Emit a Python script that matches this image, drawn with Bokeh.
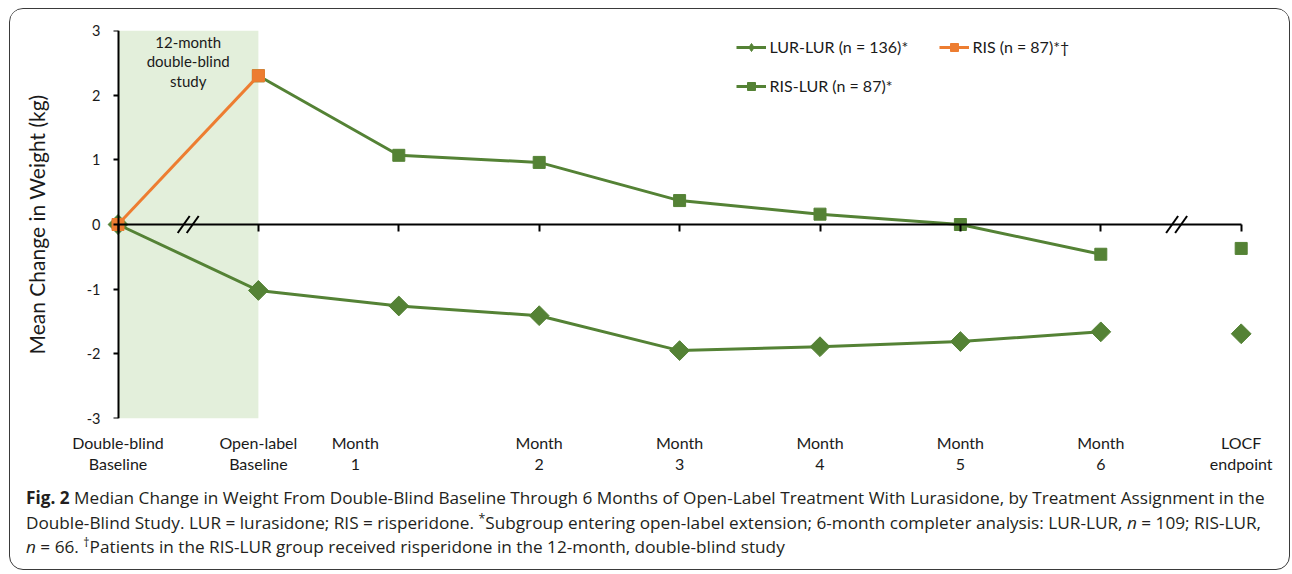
from bokeh.plotting import figure
from bokeh.models import (Range1d, LinearAxis, FixedTicker, Legend, LegendItem, Div)
from bokeh.layouts import column
from bokeh.embed import file_html
from bokeh.resources import INLINE
from bokeh.core.properties import value
import math

# ---------------- data ----------------
categories = ["Double-blind\nBaseline", "Open-label\nBaseline", "Month\n1", "Month\n2",
              "Month\n3", "Month\n4", "Month\n5", "Month\n6", "LOCF\nendpoint"]
lur_lur = [0.0, -1.02, -1.26, -1.41, -1.95, -1.89, -1.81, -1.66, -1.69]
ris_lur = [2.30, 1.07, 0.96, 0.37, 0.16, 0.00, -0.46, -0.37]   # from Open-label Baseline
ris = [0.0, 2.30]                                               # Double-blind phase
y_ticks = [-3, -2, -1, 0, 1, 2, 3]
legend_labels = ["LUR-LUR (n = 136)*", "RIS (n = 87)*\u2020", "RIS-LUR (n = 87)*"]
shade_label = "12-month\ndouble-blind\nstudy"
y_title = "Mean Change in Weight (kg)"
SUP = '<span style="position:relative;top:-0.45em;font-size:0.72em;line-height:0">{}</span>'
caption_html = (
    '<div style="padding:0 0 0 11px">'
    '<b>Fig. 2</b> Median Change in Weight From Double-Blind Baseline Through 6 Months of '
    'Open-Label Treatment With Lurasidone, by Treatment Assignment in the<br>'
    'Double-Blind Study. LUR = lurasidone; RIS = risperidone. ' + SUP.format('*') +
    'Subgroup entering open-label extension; 6-month completer analysis: LUR-LUR, '
    '<i>n</i> = 109; RIS-LUR,<br>'
    '<i>n</i> = 66. ' + SUP.format('\u2020') +
    'Patients in the RIS-LUR group received risperidone in the 12-month, double-blind study'
    '</div>')

# ---------------- styling / layout constants ----------------
GREEN = "#548235"
ORANGE = "#ED7D31"
SHADE = "#E3EFDB"
TXT = "#1a1a1a"
FONT = "Lato"
W, H = 1278, 472
CAP_H = 87
ML, MR, MT, MB = 95, 23, 21, 63
PX_PER_X = 140.4
frame_w = W - ML - MR
frame_h = H - MT - MB
x0 = -12.5 / PX_PER_X
x1 = x0 + frame_w / PX_PER_X
PX_PER_Y = frame_h / 6.0

xs = list(range(len(categories)))
n_line = len(categories) - 1          # lines stop at Month 6; LOCF is a lone point

p = figure(width=W, height=H, output_backend="svg", toolbar_location=None,
           x_range=Range1d(x0, x1), y_range=Range1d(y_ticks[0], y_ticks[-1]),
           min_border_left=ML, min_border_right=MR, min_border_top=MT, min_border_bottom=MB,
           background_fill_color="white", border_fill_color="white")
p.outline_line_color = None
p.grid.visible = False

xax = p.below[0]     # category labels
yax = p.left[0]      # tick labels + title

# shaded double-blind region
p.quad(left=[xs[0]], right=[xs[1]], bottom=[y_ticks[0]], top=[y_ticks[-1]],
       fill_color=SHADE, line_color=None, level="image")
p.text(x=[(xs[0] + xs[1]) / 2], y=[y_ticks[-1]], text=[shade_label],
       text_font=value(FONT), text_font_size="15px", text_color=TXT,
       text_align="center", text_baseline="top", text_line_height=1.1, y_offset=2)

# break marks on the x axis
breaks_x = [(xs[0] + xs[1]) / 2, (xs[-2] + xs[-1]) / 2 + 0.04]
bx0, bx1, by0, by1 = [], [], [], []
for bx in breaks_x:
    for off in (-4.5, 4.5):
        cx = bx + off / PX_PER_X
        bx0.append(cx - 6 / PX_PER_X); bx1.append(cx + 6 / PX_PER_X)
        by0.append(-8.5 / PX_PER_Y); by1.append(8.5 / PX_PER_Y)
p.segment(x0=bx0, y0=by0, x1=bx1, y1=by1, line_color="black", line_width=2)

# series
l_ll = p.line(xs[:n_line], lur_lur[:n_line], line_color=GREEN, line_width=3)
# small diamond used for the legend swatch (hidden under the large markers)
d_ll = p.scatter(xs, lur_lur, marker="diamond", size=10, fill_color=GREEN, line_color=GREEN)
s_ll = p.scatter(xs, lur_lur, marker="square", angle=math.pi / 4, size=14,
                 fill_color=GREEN, line_color=GREEN)
l_rl = p.line(xs[1:n_line], ris_lur[:n_line - 1], line_color=GREEN, line_width=3)
s_rl = p.scatter(xs[1:], ris_lur, marker="square", size=12, fill_color=GREEN, line_color=GREEN)
l_r = p.line(xs[:2], ris, line_color=ORANGE, line_width=3)
s_r = p.scatter(xs[:2], ris, marker="square", size=12, fill_color=ORANGE, line_color=ORANGE)

# y axis: tick labels + title on the regular left axis
yax.ticker = FixedTicker(ticks=y_ticks)
yax.major_label_overrides = {t: str(t) for t in y_ticks}
yax.axis_line_color = None
yax.major_tick_line_color = None
yax.minor_tick_line_color = None
yax.major_tick_in = 0
yax.major_tick_out = 0
yax.major_label_standoff = 5
yax.major_label_text_font = FONT
yax.major_label_text_font_size = "14.5px"
yax.major_label_text_color = TXT
yax.axis_label = y_title
yax.axis_label_text_font = FONT
yax.axis_label_text_font_style = "normal"
yax.axis_label_text_font_size = "21px"
yax.axis_label_text_color = TXT
yax.axis_label_standoff = 35

# y axis line + ticks at x = 0
yline = LinearAxis(fixed_location=0, ticker=FixedTicker(ticks=y_ticks),
                   major_tick_in=0, major_tick_out=5, major_tick_line_width=2,
                   major_tick_line_color="black", minor_tick_line_color=None,
                   axis_line_width=2, axis_line_color="black",
                   major_label_text_color=None, major_label_text_font_size="1px",
                   major_label_standoff=0)
p.add_layout(yline, "left")

# x axis line + ticks at y = 0
xline = LinearAxis(fixed_location=0, ticker=FixedTicker(ticks=xs), bounds=(xs[0], xs[-1]),
                   major_tick_in=7, major_tick_out=0, major_tick_line_width=2,
                   major_tick_line_color="black", minor_tick_line_color=None,
                   axis_line_width=2, axis_line_color="black",
                   major_label_text_color=None, major_label_text_font_size="1px",
                   major_label_standoff=0)
p.add_layout(xline, "above")

# category labels along the bottom
label_shift = {2: -0.31}
label_pos = [float(x + label_shift.get(x, 0.0)) for x in xs]
xax.ticker = FixedTicker(ticks=label_pos)
xax.major_label_overrides = {pos: cat for pos, cat in zip(label_pos, categories)}
xax.axis_line_color = None
xax.major_tick_line_color = None
xax.minor_tick_line_color = None
xax.major_tick_in = 0
xax.major_tick_out = 0
xax.major_label_standoff = 14
xax.major_label_text_font = FONT
xax.major_label_text_font_size = "16px"
xax.major_label_text_color = TXT
xax.major_label_text_line_height = 1.15

# legend: column-major fill -> row 1: LUR-LUR, RIS ; row 2: RIS-LUR
legend = Legend(items=[LegendItem(label=legend_labels[0], renderers=[l_ll, d_ll]),
                       LegendItem(label=legend_labels[2], renderers=[l_rl, s_rl]),
                       LegendItem(label=legend_labels[1], renderers=[l_r, s_r])],
                ncols=2, location=(630.5, 322.5), padding=0, margin=0, spacing=19,
                glyph_width=30, glyph_height=20, label_height=20, label_width=150,
                label_standoff=4, label_text_font=FONT, label_text_font_size="16px",
                label_text_color=TXT, border_line_color=None,
                background_fill_alpha=0)
p.add_layout(legend)

cap = Div(text=caption_html, width=W, height=CAP_H,
          styles={"font-family": "'Open Sans', sans-serif", "font-size": "17.2px",
                  "line-height": "24.5px", "white-space": "nowrap", "color": "#231f20"})

layout = column(p, cap, margin=(8, 0, 0, 9), width=W + 3, height=H + CAP_H + 3,
                styles={"border": "1.5px solid #3a3a3a", "border-radius": "14px",
                        "background": "white", "overflow": "hidden",
                        "box-sizing": "border-box"})

open("out.html", "w").write(file_html(layout, INLINE))
